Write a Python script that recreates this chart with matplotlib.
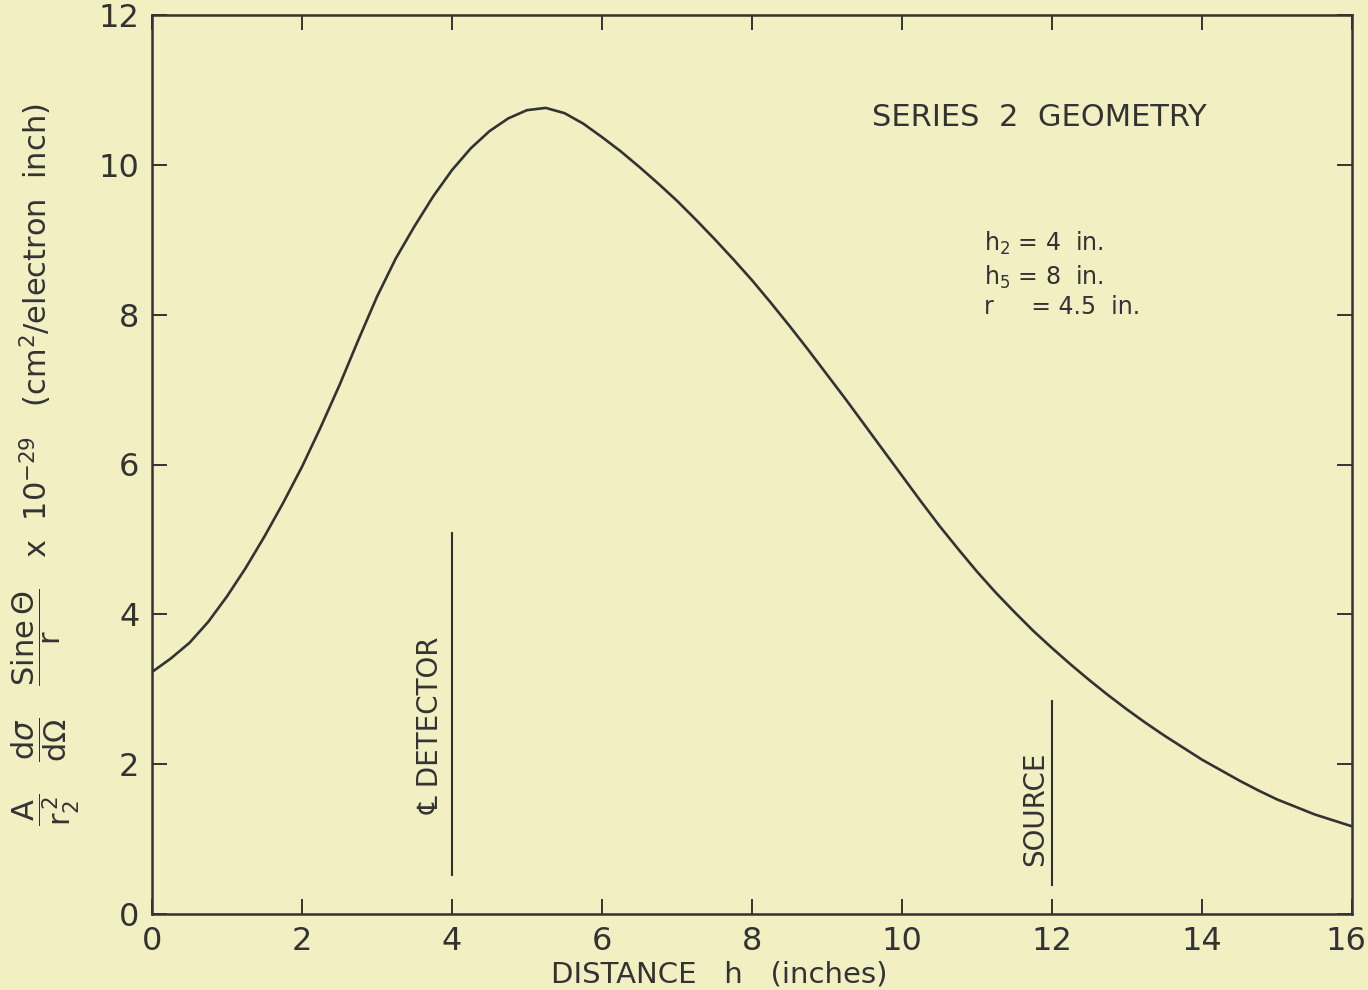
import matplotlib
matplotlib.use("Agg")
import matplotlib.pyplot as plt
from matplotlib.transforms import ScaledTranslation

# Data
distance_h = [0, 0.25, 0.5, 0.75, 1.0, 1.25, 1.5, 1.75, 2.0, 2.25, 2.5, 2.75,
              3.0, 3.25, 3.5, 3.75, 4.0, 4.25, 4.5, 4.75, 5.0, 5.25, 5.5, 5.75,
              6.0, 6.25, 6.5, 6.75, 7.0, 7.25, 7.5, 7.75, 8.0, 8.25, 8.5, 8.75,
              9.0, 9.25, 9.5, 9.75, 10.0, 10.25, 10.5, 10.75, 11.0, 11.25, 11.5,
              11.75, 12.0, 12.25, 12.5, 12.75, 13.0, 13.25, 13.5, 13.75, 14.0,
              14.25, 14.5, 14.75, 15.0, 15.25, 15.5, 15.75, 16.0]
cross_section = [3.23, 3.41, 3.62, 3.90, 4.24, 4.62, 5.04, 5.49, 5.97, 6.50,
                 7.06, 7.66, 8.24, 8.75, 9.18, 9.58, 9.93, 10.22, 10.45, 10.62,
                 10.73, 10.76, 10.69, 10.55, 10.37, 10.18, 9.97, 9.75, 9.52,
                 9.27, 9.01, 8.74, 8.46, 8.16, 7.85, 7.53, 7.20, 6.87, 6.53,
                 6.19, 5.85, 5.51, 5.18, 4.87, 4.57, 4.29, 4.03, 3.78, 3.55,
                 3.33, 3.12, 2.92, 2.73, 2.55, 2.38, 2.22, 2.06, 1.92, 1.78,
                 1.65, 1.53, 1.43, 1.33, 1.25, 1.17]

x_ticks = [0, 2, 4, 6, 8, 10, 12, 14, 16]
y_ticks = [0, 2, 4, 6, 8, 10, 12]

detector_h = 4
detector_span = [0.52, 5.08]
source_h = 12
source_span = [0.39, 2.84]

ink = "#333333"
paper = "#f2efc3"

plt.rcParams['font.family'] = ['DejaVu Sans', 'Noto Sans']
plt.rcParams['mathtext.fontset'] = 'dejavusans'

fig = plt.figure(figsize=(13.68, 9.9), dpi=100, facecolor=paper)
ax = fig.add_axes([152/1368, 1 - 914/990, 1200/1368, 899/990])
ax.set_facecolor(paper)

ax.plot(distance_h, cross_section, color=ink, lw=1.9,
        solid_joinstyle='round', solid_capstyle='round')

ax.plot([detector_h, detector_h], detector_span, color=ink, lw=1.5)
ax.plot([source_h, source_h], source_span, color=ink, lw=1.5)

ax.text(3.72, 2.52, "\u2104 DETECTOR", rotation=90, ha='center', va='center',
        fontsize=20, color=ink, family=['DejaVu Sans', 'Noto Sans'])
ax.text(11.77, 1.41, "SOURCE", rotation=90, ha='center', va='center',
        fontsize=20, color=ink)

ax.text(9.6, 10.63, "SERIES  2  GEOMETRY", ha='left', va='center',
        fontsize=22, color=ink)

ax.text(11.1, 8.95, r"h$_{2}$ = 4  in.", ha='left', va='center', fontsize=17, color=ink)
ax.text(11.1, 8.5, r"h$_{5}$ = 8  in.", ha='left', va='center', fontsize=17, color=ink)
ax.text(11.1, 8.1, r"r     = 4.5  in.", ha='left', va='center', fontsize=17, color=ink)

ax.set_xlim(0, 16)
ax.set_ylim(0, 12)
ax.set_xticks(x_ticks)
ax.set_yticks(y_ticks)
ax.set_xticklabels([str(t) for t in x_ticks])
ax.set_yticklabels([str(t) for t in y_ticks])

ax.tick_params(direction='in', length=11, width=1.4, color=ink,
               labelsize=23, labelcolor=ink, top=True, right=True, pad=9)
for s in ax.spines.values():
    s.set_color(ink)
    s.set_linewidth(1.8)

# keep the last x tick label inside the figure edge
last = ax.get_xticklabels()[-1]
last.set_transform(last.get_transform() + ScaledTranslation(-6/100, 0, fig.dpi_scale_trans))

ax.set_xlabel("DISTANCE   h   (inches)", fontsize=21, color=ink)
ax.xaxis.set_label_coords(0.473, -0.052)

ylabel = (r"$\dfrac{\mathrm{A}}{\mathrm{r}_2^{\,2}}\quad\dfrac{\mathrm{d}\sigma}{\mathrm{d}\Omega}\quad"
          r"\dfrac{\mathrm{Sine}\,\Theta}{\mathrm{r}}$   x  $10^{-29}$   (cm$^2$/electron  inch)")
ax.set_ylabel(ylabel, fontsize=22, color=ink)
ax.yaxis.set_label_coords(-0.058, 0.5)

fig.savefig("out.png", dpi=100, facecolor=paper)
